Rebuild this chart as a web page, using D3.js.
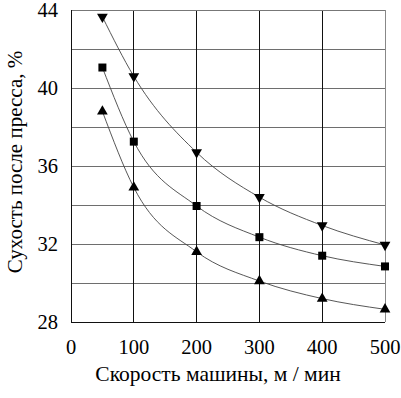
<!DOCTYPE html>
<html><head><meta charset="utf-8">
<script src="https://cdn.jsdelivr.net/npm/d3@7"></script>
<style>body{margin:0;background:#fff}svg{display:block}text{fill:#000}</style>
</head><body><svg id="c" width="401" height="398"></svg>
<script>
const speeds = [50, 100, 200, 300, 400, 500];
const seriesDown = [43.65, 40.6, 36.7, 34.4, 32.95, 31.95];
const seriesSquare = [41.05, 37.25, 33.95, 32.35, 31.4, 30.85];
const seriesUp = [38.8, 34.9, 31.6, 30.1, 29.2, 28.65];
const xTicks = [0, 100, 200, 300, 400, 500];
const yTicks = [28, 32, 36, 40, 44];
const yGrid = [30, 34, 38, 42];
const xTitle = "Скорость машины, м / мин";
const yTitle = "Сухость после пресса, %";
const FONT = "Liberation Serif, Times New Roman, serif";

const svg = d3.select("#c");
const L = 71, R = 385, T = 10, B = 322;
const x = d3.scaleLinear().domain([0, 500]).range([L, R]);
const y = d3.scaleLinear().domain([28, 44]).range([B, T]);

const g = svg.append("g");
g.selectAll("line.h").data(yTicks.concat(yGrid)).enter().append("line")
  .attr("x1", L).attr("x2", R).attr("y1", d => y(d)).attr("y2", d => y(d))
  .attr("stroke", "#6e6e6e").attr("stroke-width", 1).attr("shape-rendering", "crispEdges");
g.selectAll("line.v").data(xTicks.filter(d => d > 0 && d < 500)).enter().append("line")
  .attr("y1", T).attr("y2", B).attr("x1", d => x(d)).attr("x2", d => x(d))
  .attr("stroke", "#111").attr("stroke-width", 1).attr("shape-rendering", "crispEdges");
g.append("line").attr("x1", R).attr("x2", R).attr("y1", T).attr("y2", B).attr("stroke", "#888").attr("shape-rendering", "crispEdges");
g.append("line").attr("x1", L).attr("x2", R).attr("y1", T).attr("y2", T).attr("stroke", "#777").attr("shape-rendering", "crispEdges");
g.append("line").attr("x1", L).attr("x2", L).attr("y1", T).attr("y2", B).attr("stroke", "#111").attr("shape-rendering", "crispEdges");
g.append("line").attr("x1", L).attr("x2", R).attr("y1", B).attr("y2", B).attr("stroke", "#111").attr("shape-rendering", "crispEdges");

svg.selectAll("text.xt").data(xTicks).enter().append("text")
  .attr("font-family", FONT)
  .attr("x", d => x(d)).attr("y", 354).attr("text-anchor", "middle")
  .attr("font-size", 20.5).text(d => d);
svg.selectAll("text.yt").data(yTicks).enter().append("text")
  .attr("font-family", FONT)
  .attr("x", 58).attr("y", d => y(d) + 7).attr("text-anchor", "end")
  .attr("font-size", 20.5).text(d => d);
svg.append("text").attr("font-family", FONT).attr("x", 218).attr("y", 381).attr("text-anchor", "middle")
  .attr("font-size", 21.5).text(xTitle);
svg.append("text").attr("font-family", FONT).attr("transform", "translate(22,162) rotate(-90)").attr("text-anchor", "middle")
  .attr("font-size", 21).text(yTitle);

const line = d3.line().x((d, i) => x(speeds[i])).y(d => y(d)).curve(d3.curveMonotoneX);
const all = [
  {vals: seriesDown, type: "down"},
  {vals: seriesSquare, type: "square"},
  {vals: seriesUp, type: "up"}
];
all.forEach(s => {
  svg.append("path").attr("d", line(s.vals)).attr("fill", "none")
    .attr("stroke", "#444").attr("stroke-width", 0.9);
});
const tri = d3.symbol().type(d3.symbolTriangle).size(50);
const sq = d3.symbol().type(d3.symbolSquare).size(64);
all.forEach(s => {
  svg.selectAll(null).data(s.vals).enter().append("path")
    .attr("d", s.type === "square" ? sq() : tri())
    .attr("transform", (d, i) => `translate(${x(speeds[i])},${y(d)})` + (s.type === "down" ? " rotate(180)" : ""))
    .attr("fill", "#000");
});
</script></body></html>
